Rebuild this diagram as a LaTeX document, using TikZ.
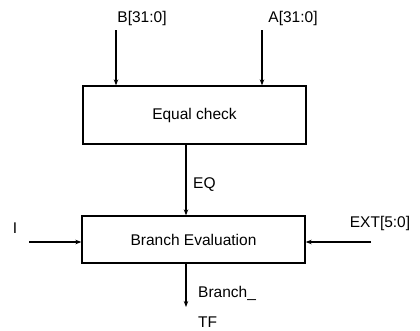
\documentclass[tikz,border=0pt]{standalone}
\usepackage{fontspec}
\setmainfont{Liberation Sans}
\usetikzlibrary{arrows.meta}
\begin{document}
\begin{tikzpicture}[x=1pt,y=-1pt,
  blk/.style={draw,line width=1.3pt,minimum width=223pt,inner sep=0pt},
  lbl/.style={font=\fontsize{15.5}{17}\selectfont,inner sep=0pt},
  conn/.style={line width=1.2pt,-{Stealth[length=6pt,width=4.5pt]}}]
\useasboundingbox (0,0) rectangle (420,330);
\node[blk,minimum height=58pt,lbl] (eqc) at (194.5,115) {Equal check};
\node[blk,minimum height=47pt,lbl] (bev) at (193.5,239.5) {Branch Evaluation};
\node[lbl] (lb) at (142,18) {B[31:0]};
\node[lbl] (la) at (293,18) {A[31:0]};
\node[lbl,anchor=west] (leq) at (193,185) {EQ};
\node[lbl] (li) at (15,228) {I};
\node[lbl] (lext) at (380,223) {EXT[5:0]};
\node[lbl,anchor=west] (lbr) at (198,293) {Branch\_};
\node[lbl,anchor=west] (ltf) at (198,322) {TF};
\coordinate (bin) at (116,30);
\coordinate (ain) at (262,30);
\coordinate (iin) at (29,242);
\coordinate (ein) at (371,242);
\coordinate (eqx) at (186,0);
\coordinate (bout) at (186,307);
\draw[conn] (bin) -- (bin |- eqc.north);
\draw[conn] (ain) -- (ain |- eqc.north);
\draw[conn] (eqc.south -| eqx) -- (bev.north -| eqx);
\draw[conn] (iin) -- (iin -| bev.west);
\draw[conn] (ein) -- (ein -| bev.east);
\draw[conn] (bev.south -| bout) -- (bout);
\end{tikzpicture}
\end{document}
